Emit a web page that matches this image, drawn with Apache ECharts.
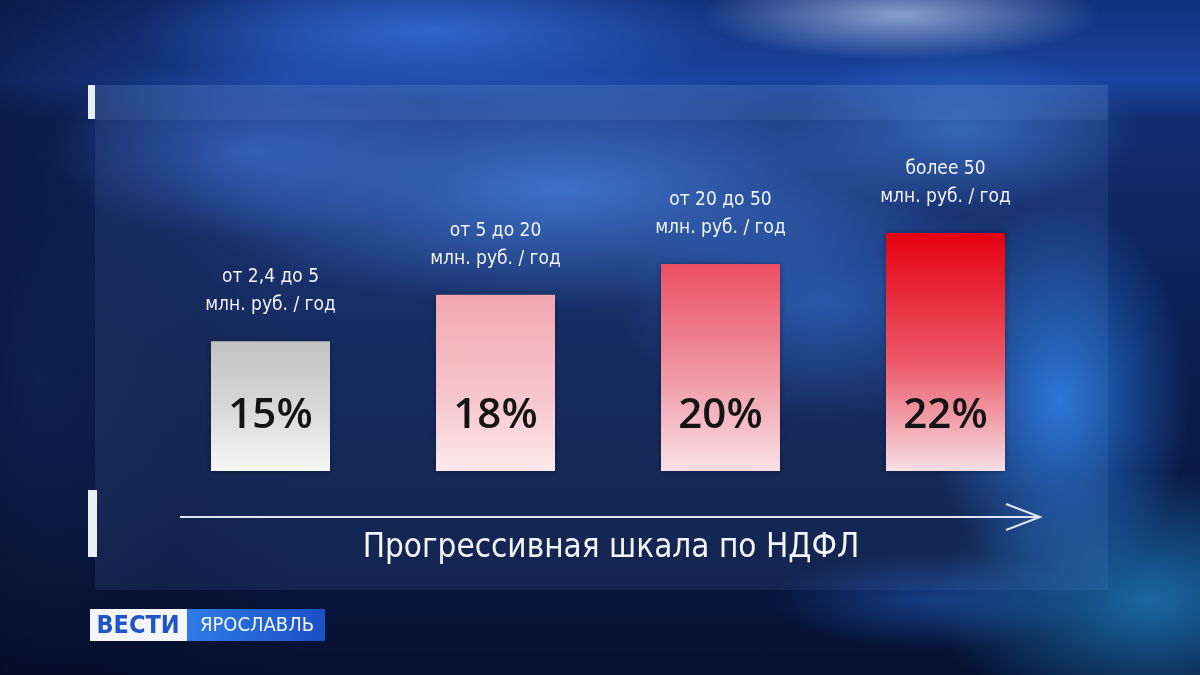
<!DOCTYPE html>
<html>
<head>
<meta charset="utf-8">
<script src="https://cdn.jsdelivr.net/npm/echarts@6/dist/echarts.min.js"></script>
<style>
html,body{margin:0;padding:0;width:1200px;height:675px;overflow:hidden;}
body{
  background:
    radial-gradient(ellipse 200px 45px at 900px 15px, rgba(210,230,255,0.6), rgba(210,230,255,0) 100%),
    radial-gradient(ellipse 300px 70px at 430px 30px, rgba(60,120,230,0.7), rgba(60,120,230,0) 100%),
    radial-gradient(ellipse 380px 120px at 560px 190px, rgba(70,130,230,0.75), rgba(70,130,230,0) 100%),
    radial-gradient(ellipse 200px 90px at 250px 150px, rgba(60,110,220,0.6), rgba(60,110,220,0) 100%),
    radial-gradient(ellipse 130px 200px at 1060px 400px, rgba(40,130,240,0.85), rgba(40,130,240,0) 100%),
    radial-gradient(ellipse 200px 120px at 820px 300px, rgba(50,120,230,0.55), rgba(50,120,230,0) 100%),
    radial-gradient(ellipse 180px 80px at 960px 130px, rgba(70,140,235,0.55), rgba(70,140,235,0) 100%),
    radial-gradient(ellipse 220px 130px at 1150px 600px, rgba(40,160,235,0.6), rgba(40,160,235,0) 100%),
    radial-gradient(ellipse 160px 50px at 930px 600px, rgba(40,110,220,0.45), rgba(40,110,220,0) 100%),
    radial-gradient(ellipse 160px 300px at 40px 380px, rgba(20,40,90,0.6), rgba(20,40,90,0) 100%),
    linear-gradient(90deg, rgba(5,10,35,0.55) 0px, rgba(5,10,35,0) 300px),
    linear-gradient(180deg, #12307a 0px, #1a44a0 80px, #112d70 120px, #0b1f52 330px, #0a1a45 470px, #07143a 600px, #061030 675px);
}
#chart{width:1200px;height:675px;}
</style>
</head>
<body>
<div id="chart"></div>
<script>
// ---- data ----
const categories = ['от 2,4 до 5\nмлн. руб. / год', 'от 5 до 20\nмлн. руб. / год', 'от 20 до 50\nмлн. руб. / год', 'более 50\nмлн. руб. / год'];
const rates = [15, 18, 20, 22];
const scaleTitle = 'Прогрессивная шкала по НДФЛ';
const brandMain = 'ВЕСТИ';
const brandRegion = 'ЯРОСЛАВЛЬ';

// ---- styles ----
const barGradients = [
  ['#c2c2c2', '#dadada', '#f8f8f8'],
  ['#f2a7b1', '#f6c4cb', '#fce8eb'],
  ['#eb4f63', '#f09aa6', '#f9e0e4'],
  ['#e5000e', '#ec5a6b', '#f6e0e4']
];
function grad(c) {
  return new echarts.graphic.LinearGradient(0, 0, 0, 1, [
    {offset: 0, color: c[0]}, {offset: 0.55, color: c[1]}, {offset: 1, color: c[2]}
  ]);
}

const chart = echarts.init(document.getElementById('chart'), null, {renderer: 'canvas'});
const narrow = '"DejaVu Sans Condensed", "Liberation Sans Narrow", sans-serif';

chart.setOption({
  backgroundColor: 'transparent',
  animation: false,
  grid: {left: 158, right: 142, top: 114, bottom: 204},
  xAxis: {
    type: 'category', data: categories,
    axisLine: {show: false}, axisTick: {show: false}, axisLabel: {show: false}, splitLine: {show: false}
  },
  yAxis: {
    type: 'value', min: 6.6, max: 29.7, show: false, splitLine: {show: false}
  },
  graphic: [
    // translucent panel
    {type: 'rect', shape: {x: 95, y: 85, width: 1013, height: 505}, style: {fill: 'rgba(110,150,220,0.12)'}, z: 0, silent: true},
    {type: 'rect', shape: {x: 95, y: 85, width: 1013, height: 35}, style: {fill: 'rgba(150,185,240,0.10)'}, z: 0, silent: true},
    // white markers on the left
    {type: 'rect', shape: {x: 88, y: 85, width: 7, height: 34}, style: {fill: '#e8eef8'}, z: 5, silent: true},
    {type: 'rect', shape: {x: 88, y: 490, width: 9, height: 67}, style: {fill: '#e8eef8'}, z: 5, silent: true},
    // arrow
    {type: 'line', shape: {x1: 180, y1: 517, x2: 1040, y2: 517}, style: {stroke: '#dfe6f2', lineWidth: 2}, z: 5, silent: true},
    {type: 'polyline', shape: {points: [[1006, 504], [1040, 517], [1006, 530]]}, style: {stroke: '#dfe6f2', lineWidth: 2, fill: null}, z: 5, silent: true},
    // title under arrow
    {type: 'text', x: 611, y: 548, style: {text: scaleTitle, fill: '#f2f5fa', font: '33px ' + narrow, align: 'center', verticalAlign: 'middle'}, z: 5, silent: true},
    // logo
    {type: 'rect', shape: {x: 90, y: 609, width: 97, height: 32}, style: {fill: '#f4f6fb'}, z: 5, silent: true},
    {type: 'rect', shape: {x: 187, y: 609, width: 138, height: 32},
     style: {fill: new echarts.graphic.LinearGradient(0, 0, 1, 0, [{offset: 0, color: '#2f7be6'}, {offset: 1, color: '#1a4fc8'}])}, z: 5, silent: true},
    {type: 'text', x: 138, y: 626, style: {text: brandMain, fill: '#1e56c8', font: 'bold 25px ' + narrow, align: 'center', verticalAlign: 'middle'}, z: 6, silent: true},
    {type: 'text', x: 257, y: 626, style: {text: brandRegion, fill: '#f2f6ff', font: '20px "DejaVu Sans Condensed", sans-serif', align: 'center', verticalAlign: 'middle'}, z: 6, silent: true}
  ],
  series: [
    {
      type: 'bar', barWidth: 119, z: 3,
      data: rates.map((v, i) => ({value: v, itemStyle: {color: grad(barGradients[i])}})),
      itemStyle: {shadowColor: 'rgba(0,0,20,0.35)', shadowBlur: 6},
      label: {
        show: true, position: 'insideBottom', distance: 34,
        formatter: '{c}%', color: '#141414', fontSize: 42, fontWeight: 600,
        fontFamily: '"Open Sans", "DejaVu Sans", sans-serif'
      },
      silent: true
    },
    {
      type: 'bar', barWidth: 119, barGap: '-100%', z: 4,
      data: rates,
      itemStyle: {color: 'rgba(0,0,0,0)'},
      label: {
        show: true, position: 'top', distance: 22,
        formatter: p => categories[p.dataIndex],
        color: '#f0f3f8', fontSize: 19, lineHeight: 28,
        fontFamily: narrow, align: 'center'
      },
      silent: true
    }
  ]
});
</script>
</body>
</html>
